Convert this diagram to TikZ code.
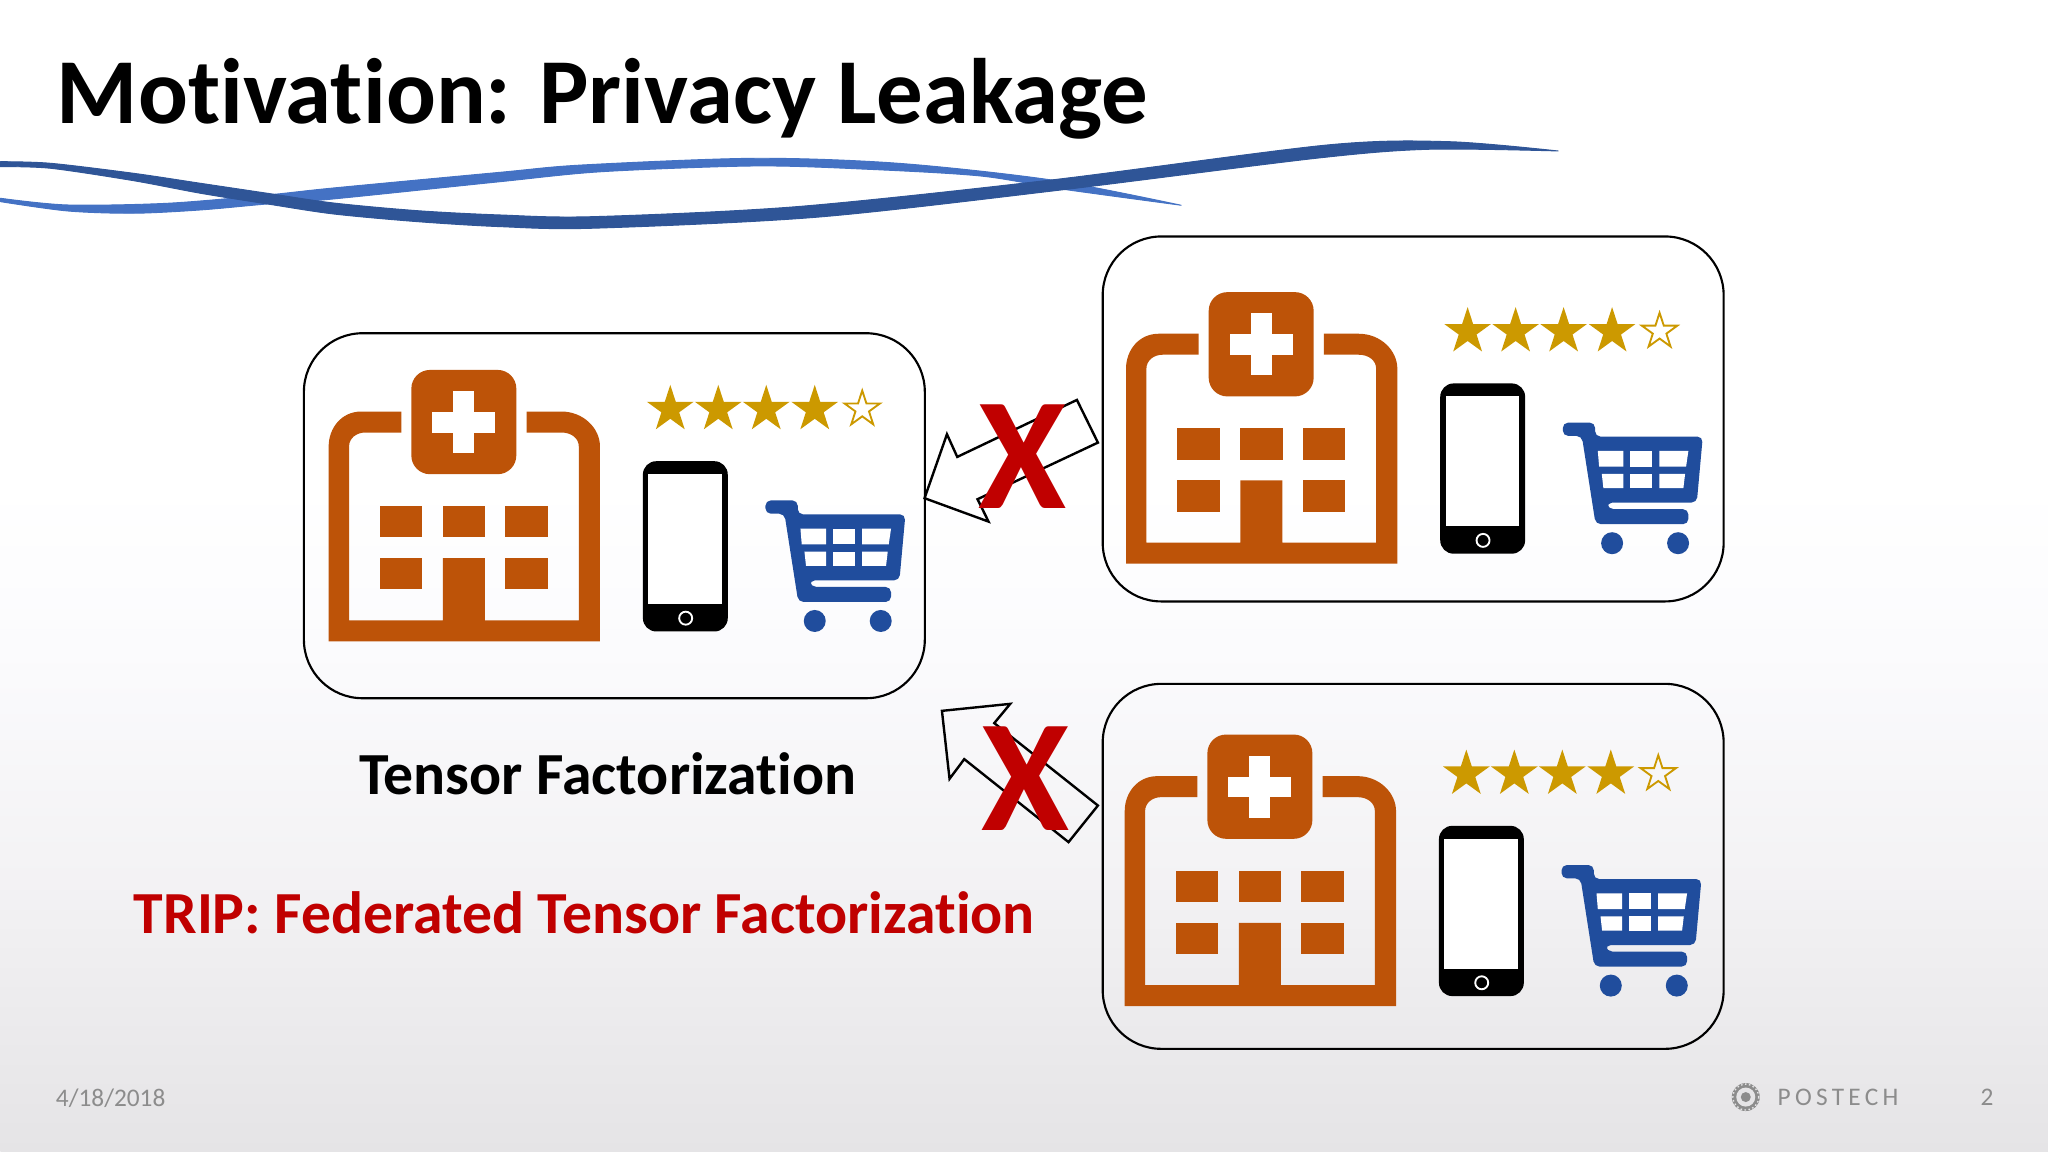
\documentclass[tikz,border=0pt]{standalone}
\usepackage{fontspec}
\setmainfont[Ligatures=NoCommon]{Carlito}
\usepackage{tikz}
\usetikzlibrary{positioning,shapes.geometric}

\definecolor{clinicorange}{HTML}{BD5308}
\definecolor{ratinggold}{HTML}{CC9900}
\definecolor{cartblue}{HTML}{204D9D}
\definecolor{swooshdark}{HTML}{2F5597}
\definecolor{swooshlight}{HTML}{4472C4}
\definecolor{crossred}{HTML}{C00000}
\definecolor{footgray}{HTML}{8C8C8C}
\definecolor{bgbottom}{HTML}{E5E4E6}
\definecolor{bgmiddle}{HTML}{F3F2F4}
\definecolor{bgupper}{HTML}{FBFBFD}
\pgfdeclareverticalshading{slidebg}{100bp}{color(0bp)=(bgbottom); color(25bp)=(bgbottom); color(36.8bp)=(bgmiddle); color(46.8bp)=(bgupper); color(54bp)=(white); color(100bp)=(white)}

\tikzset{
  clinic/.pic={
    % frame and door
    \fill[clinicorange] (98,78.3) -- (58,78.3) .. controls (38,78.3) and (25.3,95) .. (25.3,113.3)
      -- (25.3,308.3) -- (296.7,308.3) -- (296.7,113.3) .. controls (296.7,95) and (280,78.3) .. (258,78.3)
      -- (223.3,78.3) -- (223.3,99.3) -- (258,99.3) .. controls (268,99.3) and (275.5,105) .. (275.5,113.3)
      -- (275.5,287.3) -- (181.6,287.3) -- (181.6,225) -- (139.6,225) -- (139.6,287.3) -- (45.7,287.3)
      -- (45.7,113.3) .. controls (45.7,105) and (53,99.3) .. (62,99.3) -- (98,99.3) -- cycle;
    \fill[clinicorange, rounded corners=7pt] (108,36.7) rectangle (213,141);
    \fill[white] (150,58) rectangle (171,120);
    \fill[white] (129,78.7) rectangle (192,99.3);
    \foreach \x in {76.7,139.6,202}
      \fill[clinicorange] (\x,172.7) rectangle ++(42.4,31.6);
    \foreach \x in {76.7,202}
      \fill[clinicorange] (\x,225) rectangle ++(42.4,31.3);
    % rating
    \foreach \x [count=\i] in {367,415,463,511.5}
      \node[ratestar, fill=ratinggold] (-star\i) at (\x,76.2) {};
    \node[ratestar, draw=ratinggold, line width=0.7pt, minimum size=14pt] (-star5) at (559,76) {};
    % phone
    \fill[black, rounded corners=5pt] (339.6,128) rectangle (424.5,298.3);
    \fill[white] (345,140.7) rectangle (418.8,271);
    \draw[white, line width=0.7pt] (382.4,285) circle (6.5);
    % cart
    \fill[cartblue, rounded corners=2pt] (462.2,167.2) -- (494.5,167.2) -- (494.5,181.2) -- (602.2,181.2)
      -- (596.2,247.2) -- (506.2,247.2) -- (507.8,253.8) -- (587.8,253.8) -- (587.8,268.8) -- (495,268.8)
      -- (481.2,180.5) -- (462.2,180.5) -- cycle;
    \fill[white] (497.2,195.5) -- (522.8,195.5) -- (522.8,211.2) -- (498.5,211.2) -- cycle;
    \fill[white] (529.5,195.5) rectangle (551.8,211.2);
    \fill[white] (558.8,195.5) -- (587.8,195.5) -- (585.5,211.2) -- (558.8,211.2) -- cycle;
    \fill[white] (501.2,218.5) -- (522.8,218.5) -- (522.8,232.8) -- (502.8,232.8) -- cycle;
    \fill[white] (529.5,218.5) rectangle (551.8,232.8);
    \fill[white] (558.8,218.5) -- (584.5,218.5) -- (582.8,232.8) -- (558.8,232.8) -- cycle;
    \fill[cartblue] (511.5,287.8) circle (11);
    \fill[cartblue] (577.5,287.8) circle (11);
  },
  ratestar/.style={star, star points=5, star point ratio=2.618, minimum size=18.4pt, inner sep=0pt, outer sep=0pt},
}

\begin{document}
\begin{tikzpicture}[
  x=0.375pt, y=-0.375pt,
  panel/.style={draw=black, line width=0.8pt, rounded corners=22pt, minimum width=232.9pt,
                minimum height=136.9pt, anchor=north west, outer sep=0pt},
  blockarrow/.style={draw=black, line width=0.9pt, line join=miter},
  footer/.style={text=footgray, font=\fontsize{9.5}{11}\selectfont},
  denied/.style={text=crossred, inner sep=0pt, font=\fontsize{60}{64}\selectfont\bfseries},
  swoosh/.style={line width=0.35pt, line join=round},
]
\node[shading=slidebg, minimum width=768pt, minimum height=432pt, anchor=north west, inner sep=0pt, outer sep=0pt] (slide) at (0,0) {};

% swooshes
\filldraw[swoosh, swooshlight] plot[smooth] coordinates {(0,198.3) (67,205) (167,203.3) (267,195) (333,188) (500,172.3) (582,165) (755,158.3) (898,163.3) (1051,180) (1181,205.3)}
  -- plot[smooth] coordinates {(1181,205.3) (1061,189) (980,176) (867,169.3) (755,166) (602,171.7) (500,181.7) (333,199) (267,204) (200,210) (133,213.3) (67,211) (0,201.7)} -- cycle;
\filldraw[swoosh, swooshdark] plot[smooth] coordinates {(0,161.7) (50,163.3) (133,173.3) (200,183.3) (267,193.3) (333,203) (417,210.7) (500,215) (592,216.7) (796,206.7) (1051,180) (1327,145) (1449,141.7) (1558,151)}
  -- plot[smooth] coordinates {(1558,151) (1429,149.3) (1316,158.3) (1061,190) (816,217.3) (592,228.3) (500,226.7) (417,221.7) (333,214) (267,204) (200,193.3) (133,180.7) (50,168.3) (0,166.7)} -- cycle;

\node[anchor=west, inner sep=0pt, font=\fontsize{34.85}{40}\selectfont\bfseries] (title) at (56,99) {Motivation: Privacy Leakage};

% panels
\node[panel] (hub) at (303.5,333.3) {};
\node[panel] (upper) at (1102.5,236.5) {};
\node[panel] (lower) at (1102.5,684) {};
\pic (hubicons) at ([xshift=-0.2pt]hub.north west) {clinic};
\pic (uppericons) at ([shift={(-2,19)}]upper.north west) {clinic};
\pic (lowericons) at ([shift={(-3.3,14)}]lower.north west) {clinic};

\draw[blockarrow] (924.3,498.3) -- (946.7,434.3) -- (957,457) -- (1076.7,400) -- (1097.7,442.7) -- (977.3,499.3) -- (988.3,521.7) -- cycle;
\draw[blockarrow] (941.7,711) -- (1010,704) -- (994,723.3) -- (1097.7,805.7) -- (1068.3,842.3) -- (964,759.3) -- (949.3,779) -- cycle;
\node[denied] (crossupper) at (1022.7,456.7) {X};
\node[denied] (crosslower) at (1025.7,779) {X};

\node[inner sep=0pt, font=\fontsize{22.4}{26}\selectfont\bfseries] (plain) at (607.5,773.5) {Tensor Factorization};
\node[inner sep=0pt, text=crossred, font=\fontsize{22.4}{26}\selectfont\bfseries] (trip) at (584,913) {TRIP: Federated Tensor Factorization};

% footer
\node[footer, anchor=west, inner sep=0pt] (date) at (55,1098) {4/18/2018};
\fill[footgray] (1745.7,1097.3) circle (14);
\draw[bgbottom, line width=0.5pt, dash pattern=on 0.6pt off 0.9pt] (1745.7,1097.3) circle (13);
\fill[bgbottom] (1745.7,1097.3) circle (9.5);
\fill[footgray] (1745.7,1097.3) circle (5);
\node[footer, anchor=west, inner sep=0pt] (brand) at (1777,1098) {\addfontfeature{LetterSpace=17}POSTECH};
\node[footer, inner sep=0pt] (page) at (1987,1098) {2};
\end{tikzpicture}
\end{document}
